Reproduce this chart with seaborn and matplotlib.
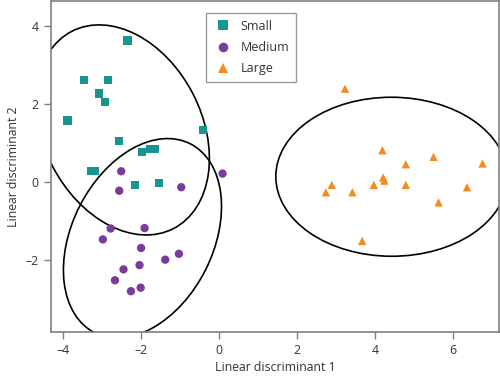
import numpy as np
import pandas as pd
import matplotlib
matplotlib.use("Agg")
import matplotlib.pyplot as plt
from matplotlib.patches import Ellipse
import seaborn as sns

# Data
small_x = [-2.35, -3.46, -2.85, -3.08, -2.92, -3.89, -0.41, -2.57, -1.97, -1.77, -1.64, -3.29, -3.18, -2.15, -1.54]
small_y = [3.63, 2.61, 2.61, 2.27, 2.04, 1.57, 1.33, 1.04, 0.77, 0.84, 0.84, 0.27, 0.27, -0.09, -0.03]
medium_x = [-2.51, 0.09, -2.56, -0.97, -2.78, -1.91, -2.98, -2.00, -1.03, -1.38, -2.04, -2.45, -2.67, -2.01, -2.26]
medium_y = [0.27, 0.21, -0.23, -0.14, -1.20, -1.19, -1.48, -1.70, -1.85, -2.00, -2.14, -2.25, -2.53, -2.72, -2.81]
large_x = [3.23, 4.19, 5.50, 6.76, 4.79, 4.21, 4.24, 3.97, 4.79, 2.89, 2.74, 3.42, 6.36, 5.63, 3.67]
large_y = [2.39, 0.81, 0.64, 0.47, 0.45, 0.11, 0.03, -0.08, -0.08, -0.08, -0.27, -0.27, -0.14, -0.53, -1.52]

groups = ["Small", "Medium", "Large"]
colors = ["#16968f", "#7a3b9a", "#f58a1f"]
x_ticks = [-4, -2, 0, 2, 4, 6]
y_ticks = [-2, 0, 2, 4]

df = pd.DataFrame({
    "LD1": small_x + medium_x + large_x,
    "LD2": small_y + medium_y + large_y,
    "Size": ["Small"] * len(small_x) + ["Medium"] * len(medium_x) + ["Large"] * len(large_x),
})

sns.set_style("white")
plt.rcParams["font.family"] = ["Open Sans", "DejaVu Sans"]

fig = plt.figure(figsize=(5.0, 3.82), dpi=100)
ax = fig.add_axes([0.102, 0.1317, 0.896, 0.8655])

sns.scatterplot(data=df, x="LD1", y="LD2", hue="Size", style="Size",
                hue_order=groups, style_order=groups,
                palette=dict(zip(groups, colors)),
                markers={"Small": "s", "Medium": "o", "Large": "^"},
                s=36, linewidth=0, ax=ax, zorder=3)

# 95% normal-theory data ellipses for each group
k = np.sqrt(5.991)
for g in groups:
    sub = df[df["Size"] == g]
    pts = sub[["LD1", "LD2"]].to_numpy()
    mu = pts.mean(axis=0)
    cov = np.cov(pts.T)
    vals, vecs = np.linalg.eigh(cov)
    order = vals.argsort()[::-1]
    vals, vecs = vals[order], vecs[:, order]
    angle = np.degrees(np.arctan2(vecs[1, 0], vecs[0, 0]))
    ell = Ellipse(xy=mu, width=2 * k * np.sqrt(vals[0]), height=2 * k * np.sqrt(vals[1]),
                  angle=angle, fill=False, edgecolor="black", linewidth=1.2, zorder=2)
    ax.add_patch(ell)

ax.set_xlim(-4.31, 7.18)
ax.set_ylim(-3.85, 4.64)
ax.set_xticks(x_ticks)
ax.set_yticks(y_ticks)
ax.set_xticklabels([f"\u2013{abs(t)}" if t < 0 else str(t) for t in x_ticks])
ax.set_yticklabels([f"\u2013{abs(t)}" if t < 0 else str(t) for t in y_ticks])
ax.set_xlabel("Linear discriminant 1", fontsize=8.8, color="#333333", labelpad=3)
ax.set_ylabel("Linear discriminant 2", fontsize=8.8, color="#333333", labelpad=4)
ax.tick_params(axis="both", which="both", direction="out", length=5, width=1,
               color="#808080", labelsize=8.8, labelcolor="#333333", pad=4,
               bottom=True, left=True)
for sp in ax.spines.values():
    sp.set_color("#808080")
    sp.set_linewidth(1.2)

leg = ax.legend(loc="upper left", bbox_to_anchor=(0.346, 0.964), borderaxespad=0,
                frameon=True, fancybox=False, edgecolor="#808080", fontsize=9,
                title=None, handletextpad=0.6, labelspacing=0.65, borderpad=0.55,
                handlelength=1.6, markerscale=1.15)
leg.get_frame().set_linewidth(1.0)
for txt in leg.get_texts():
    txt.set_color("#333333")

fig.savefig("out.png", dpi=100)
